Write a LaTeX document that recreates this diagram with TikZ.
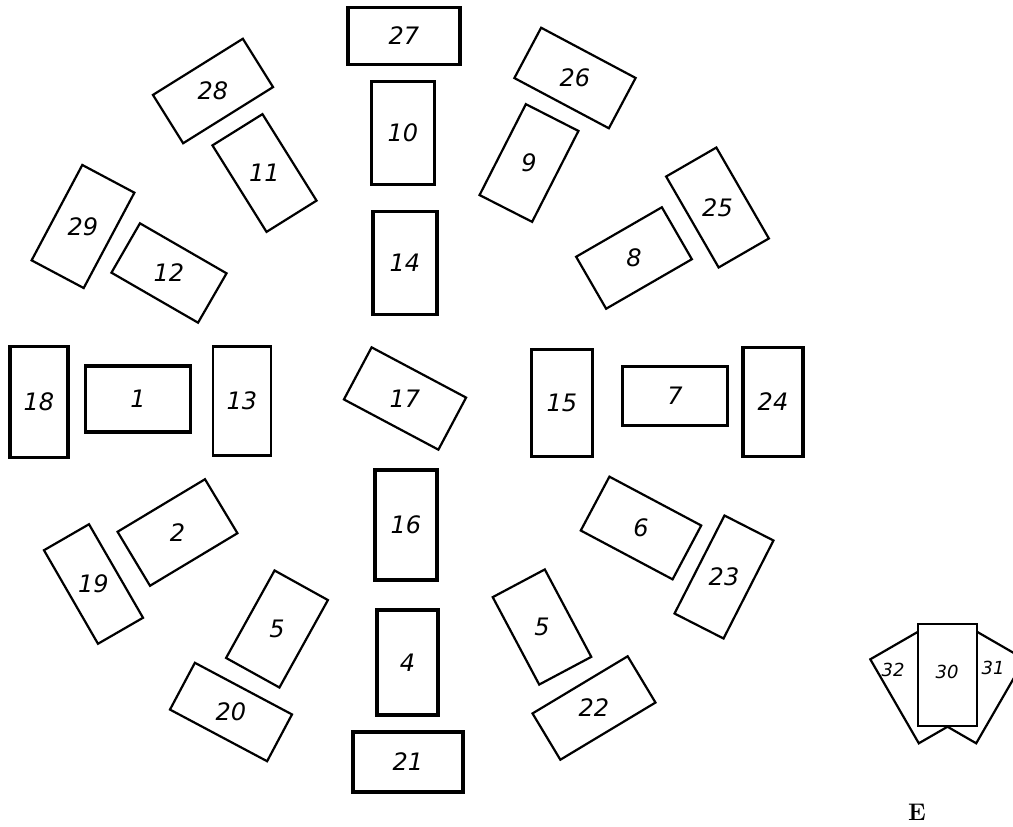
\documentclass[tikz,border=0pt]{standalone}
\usepackage{fontspec}
\newfontfamily\hand{DejaVu Sans}
\tikzset{
  cardn/.style={draw=black, fill=white, line width=2.2pt, inner sep=0pt, rectangle},
  cardh/.style={draw=black, fill=white, line width=3.4pt, inner sep=0pt, rectangle},
  lbl/.style={font=\hand\itshape\fontsize{24}{24}\selectfont, inner sep=0pt},
  smalllbl/.style={font=\hand\itshape\fontsize{18}{18}\selectfont, inner sep=0pt},
  tagtext/.style={font=\bfseries\fontsize{24}{24}\selectfont, inner sep=0pt}
}
\newcommand\cardbox[8]{%
  \node[#8, minimum width=#4pt, minimum height=#5pt, rotate=#6] (#1) at (#2,#3) {};
  \node[lbl] (#1t) at (#1.center) {#7};}
\begin{document}
\begin{tikzpicture}[x=1pt,y=-1pt]
\useasboundingbox (0,0) rectangle (1013,827);
\clip (0,0) rectangle (1013,827);
% top column
\cardbox{c27}{404}{36}{112}{57}{0}{27}{cardh}
\cardbox{c10}{403}{133}{63}{103}{0}{10}{cardn}
\cardbox{c14}{405}{263}{64}{103}{0}{14}{cardh}
% upper left
\cardbox{c28}{213}{91}{106}{57}{32}{28}{cardn}
\cardbox{c11}{264.5}{173}{59}{102}{32}{11}{cardn}
\cardbox{c29}{83}{226.5}{59}{108}{-28}{29}{cardn}
\cardbox{c12}{169}{273}{100}{57}{-30}{12}{cardn}
% middle row left
\cardbox{c18}{39}{402}{58}{111}{0}{18}{cardh}
\cardbox{c1}{138}{399}{105}{66}{0}{1}{cardh}
\cardbox{c13}{242}{401}{58}{109}{0}{13}{cardn}
\cardbox{c17}{405}{398.5}{107}{59}{-28}{17}{cardn}
% upper right
\cardbox{c26}{575}{78}{107}{57}{-28}{26}{cardn}
\cardbox{c9}{529}{163}{59}{102}{-27}{9}{cardn}
\cardbox{c25}{717.5}{207.5}{58}{105}{30}{25}{cardn}
\cardbox{c8}{634}{258}{99}{60}{30}{8}{cardn}
% middle row right
\cardbox{c15}{562}{403}{61}{107}{0}{15}{cardn}
\cardbox{c7}{675}{396}{105}{59}{0}{7}{cardh}
\cardbox{c24}{773}{402}{60}{109}{0}{24}{cardh}
% lower right
\cardbox{c6}{641}{528}{104}{61}{-28}{6}{cardn}
\cardbox{c23}{724}{577}{55}{110}{-27}{23}{cardn}
\cardbox{c5r}{542}{627}{59}{99}{28}{5}{cardn}
\cardbox{c22}{594}{708}{111}{54}{31}{22}{cardn}
% bottom column
\cardbox{c16}{406}{525}{62}{110}{0}{16}{cardh}
\cardbox{c4}{407.5}{662.5}{61}{105}{0}{4}{cardh}
\cardbox{c21}{408}{762}{110}{60}{0}{21}{cardh}
% lower left
\cardbox{c2}{177.5}{532.5}{102}{63}{31}{2}{cardn}
\cardbox{c19}{93.5}{584}{52}{108}{30}{19}{cardn}
\cardbox{c5l}{277}{629}{61}{100}{-29}{5}{cardn}
\cardbox{c20}{231}{712}{110}{53}{-28}{20}{cardn}
% fan
\coordinate (pivot) at (947.5,728);
\node[cardn, minimum width=65pt, minimum height=97pt, anchor=south, rotate=30] (c32) at (pivot) {};
\node[cardn, minimum width=65pt, minimum height=97pt, anchor=south, rotate=-30] (c31) at (pivot) {};
\node[cardn, minimum width=59pt, minimum height=102pt] (c30) at (947.5,675) {};
\node[smalllbl] (c32t) at (893,670) {32};
\node[smalllbl] (c31t) at (993,668) {31};
\node[smalllbl] (c30t) at (947,672) {30};
\node[tagtext] (tag) at (917,812) {E};
\end{tikzpicture}
\end{document}
